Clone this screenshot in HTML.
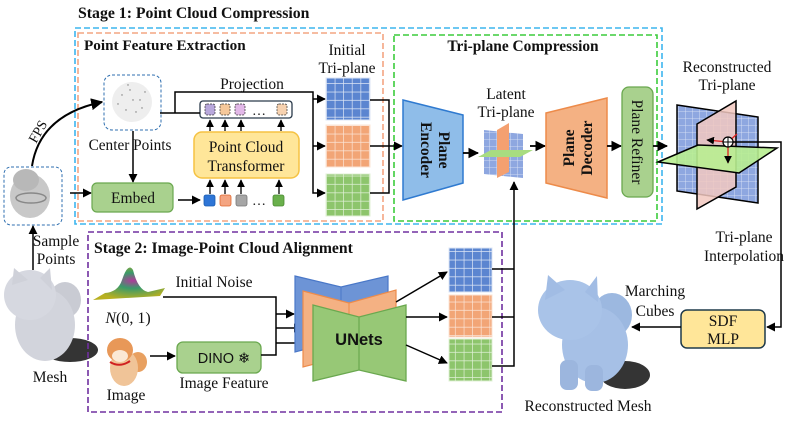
<!DOCTYPE html>
<html><head><meta charset="utf-8"><style>
html,body{margin:0;padding:0;background:#fff;}
svg{display:block;}
text{font-family:"Liberation Serif",serif;fill:#111;}
.b{font-weight:bold;}
.s{font-family:"Liberation Sans",sans-serif;}
</style></head><body>
<svg width="789" height="421" viewBox="0 0 789 421" xmlns="http://www.w3.org/2000/svg">
<defs>
<marker id="ah" viewBox="0 0 10 10" refX="9" refY="5" markerWidth="6" markerHeight="6" orient="auto-start-reverse"><path d="M0,0L10,5L0,10z" fill="#000"/></marker>
<pattern id="gb" width="8.6" height="8.4" patternUnits="userSpaceOnUse"><rect width="8.6" height="8.4" fill="#5b85d0"/><path d="M8.6,0V8.4M0,8.4H8.6" stroke="#dde6f5" stroke-width="1.4"/></pattern>
<pattern id="go" width="8.6" height="8.4" patternUnits="userSpaceOnUse"><rect width="8.6" height="8.4" fill="#f2a576"/><path d="M8.6,0V8.4M0,8.4H8.6" stroke="#fbe4d6" stroke-width="1.4"/></pattern>
<pattern id="gg" width="8.6" height="8.4" patternUnits="userSpaceOnUse"><rect width="8.6" height="8.4" fill="#8dc56c"/><path d="M8.6,0V8.4M0,8.4H8.6" stroke="#e0f0d6" stroke-width="1.4"/></pattern>
<pattern id="gl" width="7" height="7" patternUnits="userSpaceOnUse"><rect width="7" height="7" fill="#8ea7e0"/><path d="M7,0V7M0,7H7" stroke="#e3eaf8" stroke-width="0.8"/></pattern>
<radialGradient id="gauss" cx="0.55" cy="0.4" r="0.6"><stop offset="0" stop-color="#b03a9a"/><stop offset="0.4" stop-color="#3a9a6a"/><stop offset="1" stop-color="#b8b020"/></radialGradient>
</defs>

<!-- Stage 1 -->
<text x="78" y="18" class="b" font-size="15.8">Stage 1: Point Cloud Compression</text>
<rect x="75" y="28" width="587" height="196" fill="none" stroke="#3db6ee" stroke-width="1.6" stroke-dasharray="6,3"/>
<rect x="78" y="33" width="305" height="188" fill="none" stroke="#f4a582" stroke-width="1.6" stroke-dasharray="6,3"/>
<rect x="394" y="35" width="263" height="186" fill="none" stroke="#3ccc3c" stroke-width="1.6" stroke-dasharray="6,3"/>
<text x="84" y="50" class="b" font-size="15.2">Point Feature Extraction</text>
<text x="523" y="51" class="b" font-size="15.4" text-anchor="middle">Tri-plane Compression</text>

<!-- mesh point cloud box -->
<rect x="4" y="167" width="58" height="58" rx="7" fill="none" stroke="#2f6fb0" stroke-width="1" stroke-dasharray="3,2"/>
<ellipse cx="30" cy="196" rx="20" ry="22" fill="#c8c8c8"/>
<ellipse cx="26" cy="180" rx="13" ry="11" fill="#b8b8b8"/>
<ellipse cx="31" cy="198" rx="15" ry="5" fill="none" stroke="#888" stroke-width="1.5"/>
<!-- FPS -->
<path d="M32,166 Q40,115 102,102" fill="none" stroke="#000" stroke-width="2" marker-end="url(#ah)"/>
<text x="0" y="0" font-size="14" transform="translate(36,144) rotate(-60)">FPS</text>

<!-- center points -->
<rect x="104" y="75" width="57" height="55" rx="8" fill="none" stroke="#2f6fb0" stroke-width="1" stroke-dasharray="3,2"/>
<ellipse cx="132" cy="102" rx="20" ry="20" fill="#eee"/>
<g fill="#777"><circle cx="122" cy="95" r="0.7"/><circle cx="130" cy="90" r="0.7"/><circle cx="140" cy="100" r="0.7"/><circle cx="126" cy="110" r="0.7"/><circle cx="136" cy="112" r="0.7"/><circle cx="118" cy="104" r="0.7"/><circle cx="145" cy="92" r="0.7"/><circle cx="133" cy="100" r="0.7"/><circle cx="128" cy="85" r="0.7"/><circle cx="142" cy="108" r="0.7"/></g>
<text x="130" y="150" font-size="15.3" text-anchor="middle">Center Points</text>
<line x1="133" y1="131" x2="133" y2="182" stroke="#000" stroke-width="1.5" marker-end="url(#ah)"/>

<!-- Embed -->
<line x1="70" y1="193" x2="91" y2="193" stroke="#000" stroke-width="1.5" marker-end="url(#ah)"/>
<rect x="92" y="183" width="81" height="29" rx="5" fill="#a9d18e" stroke="#6aa84f" stroke-width="1.2"/>
<text x="133" y="203" font-size="15.5" text-anchor="middle">Embed</text>
<line x1="178" y1="200" x2="200" y2="200" stroke="#000" stroke-width="1.5" marker-end="url(#ah)"/>

<!-- tokens bottom -->
<rect x="204" y="195" width="11" height="11" rx="2" fill="#2e75d6" stroke="#1a5cb0" stroke-width="0.8"/>
<rect x="220" y="195" width="11" height="11" rx="2" fill="#f4a582" stroke="#e06a30" stroke-width="0.8"/>
<rect x="236" y="195" width="11" height="11" rx="2" fill="#a6a6a6" stroke="#777" stroke-width="0.8"/>
<text x="252" y="205" font-size="14">…</text>
<rect x="273" y="195" width="11" height="11" rx="2" fill="#6ab04c" stroke="#4a8a30" stroke-width="0.8"/>
<g stroke="#000" stroke-width="1.3"><line x1="210" y1="194" x2="210" y2="180" marker-end="url(#ah)"/><line x1="225" y1="194" x2="225" y2="180" marker-end="url(#ah)"/><line x1="241" y1="194" x2="241" y2="180" marker-end="url(#ah)"/><line x1="279" y1="194" x2="279" y2="180" marker-end="url(#ah)"/></g>

<!-- PCT -->
<rect x="194" y="132" width="105" height="46" rx="8" fill="#ffe699" stroke="#f5c242" stroke-width="1.5"/>
<text x="246" y="152" font-size="15.5" text-anchor="middle">Point Cloud</text>
<text x="246" y="171" font-size="15.5" text-anchor="middle">Transformer</text>
<g stroke="#000" stroke-width="1.3"><line x1="210" y1="131" x2="210" y2="120" marker-end="url(#ah)"/><line x1="225" y1="131" x2="225" y2="120" marker-end="url(#ah)"/><line x1="241" y1="131" x2="241" y2="120" marker-end="url(#ah)"/><line x1="281" y1="131" x2="281" y2="120" marker-end="url(#ah)"/></g>

<!-- token box top -->
<rect x="200" y="101" width="92" height="17" rx="3" fill="#fff" stroke="#2a3a4a" stroke-width="1.3"/>
<rect x="205" y="104" width="10" height="11" rx="2" fill="#b8a8dc" stroke="#333" stroke-width="0.7" stroke-dasharray="2,1"/>
<rect x="220" y="104" width="10" height="11" rx="2" fill="#f6c89a" stroke="#333" stroke-width="0.7" stroke-dasharray="2,1"/>
<rect x="235" y="104" width="10" height="11" rx="2" fill="#e2b8e8" stroke="#333" stroke-width="0.7" stroke-dasharray="2,1"/>
<text x="252" y="115" font-size="14">…</text>
<rect x="277" y="104" width="10" height="11" rx="2" fill="#f7d2b0" stroke="#333" stroke-width="0.7" stroke-dasharray="2,1"/>

<!-- projection -->
<text x="252" y="89" font-size="15.5" text-anchor="middle">Projection</text>
<polyline points="160,113 200,113" fill="none" stroke="#000" stroke-width="1.5"/>
<polyline points="175,113 175,92 313,92 313,193 325,193" fill="none" stroke="#000" stroke-width="1.5" marker-end="url(#ah)"/>
<line x1="313" y1="99" x2="325" y2="99" stroke="#000" stroke-width="1.5" marker-end="url(#ah)"/>
<line x1="313" y1="146" x2="325" y2="146" stroke="#000" stroke-width="1.5" marker-end="url(#ah)"/>

<!-- initial triplane -->
<text x="347" y="55" font-size="15.5" text-anchor="middle">Initial</text>
<text x="347" y="73" font-size="15.5" text-anchor="middle">Tri-plane</text>
<rect x="326" y="78" width="44" height="42" fill="url(#gb)" stroke="#dde6f5"/>
<rect x="326" y="125" width="44" height="42" fill="url(#go)" stroke="#fbe4d6"/>
<rect x="326" y="174" width="44" height="42" fill="url(#gg)" stroke="#e0f0d6"/>
<polyline points="370,100 389,100 389,193 370,193" fill="none" stroke="#000" stroke-width="1.5"/>
<line x1="370" y1="146" x2="402" y2="146" stroke="#000" stroke-width="1.5" marker-end="url(#ah)"/>

<!-- encoder -->
<polygon points="403,100 463,115 463,183 403,200" fill="#8fbde9" stroke="#2f7ad0" stroke-width="1.5"/>
<g transform="translate(433,150) rotate(90)"><text x="0" y="-6" class="b" font-size="15.5" text-anchor="middle">Plane</text><text x="0" y="12" class="b" font-size="15.5" text-anchor="middle">Encoder</text></g>
<line x1="463" y1="153" x2="478" y2="153" stroke="#000" stroke-width="1.8" marker-end="url(#ah)"/>

<!-- latent -->
<text x="506" y="99" font-size="15.5" text-anchor="middle">Latent</text>
<text x="506" y="117" font-size="15.5" text-anchor="middle">Tri-plane</text>
<polygon points="484,130 523,134 523,178 484,174" fill="url(#gl)"/>
<polygon points="497,130 509,123 509,172 497,178" fill="#f4a070"/>
<polygon points="478,157 491,150 533,150 520,157" fill="#a8dc80"/>
<line x1="530" y1="146" x2="545" y2="146" stroke="#000" stroke-width="1.8" marker-end="url(#ah)"/>

<!-- decoder -->
<polygon points="546,113 607,98 607,198 546,183" fill="#f4b183" stroke="#ed8b4a" stroke-width="1.5"/>
<g transform="translate(578,148) rotate(-90)"><text x="0" y="-4" class="b" font-size="15.5" text-anchor="middle">Plane</text><text x="0" y="14" class="b" font-size="15.5" text-anchor="middle">Decoder</text></g>
<line x1="607" y1="146" x2="621" y2="146" stroke="#000" stroke-width="1.8" marker-end="url(#ah)"/>

<!-- refiner -->
<rect x="622" y="87" width="31" height="110" rx="7" fill="#a9d18e" stroke="#6aa84f" stroke-width="1.3"/>
<text x="0" y="0" font-size="15.5" text-anchor="middle" transform="translate(632,142) rotate(90)">Plane Refiner</text>
<line x1="653" y1="146" x2="667" y2="146" stroke="#000" stroke-width="1.8" marker-end="url(#ah)"/>

<!-- reconstructed triplane -->
<text x="727" y="72" font-size="15.5" text-anchor="middle">Reconstructed</text>
<text x="727" y="90" font-size="15.5" text-anchor="middle">Tri-plane</text>
<polygon points="677,105 758,117 758,203 677,191" fill="url(#gl)" stroke="#000" stroke-width="1.5"/>
<polygon points="697,124 736,101 736,187 697,209" fill="#f2c8c0" fill-opacity="0.85" stroke="#000" stroke-width="1.5"/>
<polygon points="658,162 698,145 777,148 739,173" fill="#b8ee90" fill-opacity="0.9" stroke="#000" stroke-width="1.5"/>
<g stroke="#e02020" stroke-width="1.3"><line x1="728" y1="142" x2="707" y2="140" marker-end="url(#ah)"/><line x1="728" y1="142" x2="728" y2="163" marker-end="url(#ah)"/><line x1="728" y1="142" x2="737" y2="134"/></g>
<circle cx="728" cy="142" r="5" fill="#fff" stroke="#000" stroke-width="1.2"/>
<path d="M723,142H733M728,137V147" stroke="#000" stroke-width="1"/>
<polyline points="733,142 781,142 781,327 767,327" fill="none" stroke="#000" stroke-width="1.5" marker-end="url(#ah)"/>
<text x="744" y="242" font-size="15.5" text-anchor="middle">Tri-plane</text>
<text x="744" y="261" font-size="15.5" text-anchor="middle">Interpolation</text>

<!-- SDF MLP -->
<rect x="681" y="310" width="84" height="38" rx="6" fill="#ffe699" stroke="#1f3a4a" stroke-width="1.5"/>
<text x="723" y="326" font-size="15.5" text-anchor="middle">SDF</text>
<text x="723" y="344" font-size="15.5" text-anchor="middle">MLP</text>
<line x1="681" y1="327" x2="632" y2="327" stroke="#000" stroke-width="1.5" marker-end="url(#ah)"/>
<text x="655" y="296" font-size="15.5" text-anchor="middle">Marching</text>
<text x="655" y="316" font-size="15.5" text-anchor="middle">Cubes</text>

<!-- reconstructed mesh -->
<ellipse cx="625" cy="375" rx="25" ry="14" fill="#111" opacity="0.85"/>
<ellipse cx="612" cy="315" rx="20" ry="22" fill="#9cb8e0"/>
<ellipse cx="595" cy="345" rx="33" ry="38" fill="#a6c0e6"/>
<ellipse cx="570" cy="310" rx="32" ry="30" fill="#a9c3e8"/>
<polygon points="545,300 548,275 565,290" fill="#a1bce4"/>
<polygon points="585,292 597,276 598,302" fill="#a1bce4"/>
<rect x="560" y="360" width="18" height="30" rx="7" fill="#9cb6de"/>
<rect x="585" y="365" width="18" height="26" rx="7" fill="#9cb6de"/>
<text x="588" y="411" font-size="15.5" text-anchor="middle">Reconstructed Mesh</text>

<!-- left mesh -->
<line x1="33" y1="270" x2="33" y2="226" stroke="#000" stroke-width="1.5" marker-end="url(#ah)"/>
<text x="56" y="246" font-size="15.5" text-anchor="middle">Sample</text>
<text x="56" y="264" font-size="15.5" text-anchor="middle">Points</text>
<ellipse cx="70" cy="350" rx="28" ry="12" fill="#111" opacity="0.85"/>
<ellipse cx="65" cy="300" rx="16" ry="18" fill="#c9cbd3"/>
<ellipse cx="45" cy="325" rx="30" ry="36" fill="#d2d4dc"/>
<ellipse cx="30" cy="295" rx="26" ry="25" fill="#d6d8e0"/>
<polygon points="12,285 14,268 28,280" fill="#cfd1d9"/>
<polygon points="40,278 50,268 52,290" fill="#cfd1d9"/>
<text x="50" y="382" font-size="15.5" text-anchor="middle">Mesh</text>

<!-- Stage 2 -->
<rect x="88" y="232" width="414" height="180" fill="none" stroke="#7030a0" stroke-width="1.6" stroke-dasharray="6,3"/>
<text x="94" y="253" class="b" font-size="15.7">Stage 2: Image-Point Cloud Alignment</text>
<path d="M93,300 L160,296 L165,288 L148,292 Q138,290 133,270 Q128,262 122,280 Q118,292 105,293 Z" fill="url(#gauss)"/>
<text x="128" y="323" font-size="16" text-anchor="middle"><tspan font-style="italic">N</tspan>(0, 1)</text>
<!-- dog -->
<ellipse cx="138" cy="362" rx="9" ry="10" fill="#e8a060"/>
<ellipse cx="124" cy="368" rx="14" ry="18" fill="#f0c498"/>
<ellipse cx="120" cy="350" rx="13" ry="12" fill="#e89858"/>
<ellipse cx="120" cy="356" rx="8" ry="6" fill="#fbe8d4"/>
<path d="M110,362 Q120,368 130,361" stroke="#d02020" stroke-width="2" fill="none"/>
<text x="126" y="400" font-size="15.5" text-anchor="middle">Image</text>
<line x1="150" y1="356" x2="175" y2="356" stroke="#000" stroke-width="1.5" marker-end="url(#ah)"/>
<rect x="177" y="342" width="84" height="31" rx="6" fill="#a9d18e" stroke="#6aa84f" stroke-width="1.3"/>
<text x="224" y="363" class="s" font-size="14.5" text-anchor="middle">DINO ❄</text>
<text x="224" y="388" font-size="15.5" text-anchor="middle">Image Feature</text>
<text x="214" y="287" font-size="15.5" text-anchor="middle">Initial Noise</text>
<polyline points="163,297 276,297 276,355 261,355" fill="none" stroke="#000" stroke-width="1.5"/>
<line x1="276" y1="314" x2="294" y2="314" stroke="#000" stroke-width="1.5" marker-end="url(#ah)"/>
<line x1="276" y1="328" x2="302" y2="328" stroke="#000" stroke-width="1.5" marker-end="url(#ah)"/>
<line x1="276" y1="343" x2="312" y2="343" stroke="#000" stroke-width="1.5" marker-end="url(#ah)"/>

<!-- UNets -->
<polygon points="295,276 341,287 388,276 388,345 341,340 295,352" fill="#6d94d6" stroke="#4a78c8" stroke-width="1.2"/>
<line x1="341" y1="287" x2="341" y2="340" stroke="#4a78c8"/>
<polygon points="303,291 349,303 396,290 396,360 349,355 303,367" fill="#f4b183" stroke="#ed8b4a" stroke-width="1.2"/>
<line x1="349" y1="303" x2="349" y2="355" stroke="#ed8b4a"/>
<polygon points="313,305 359,317 406,305 406,381 359,370 313,381" fill="#97c876" stroke="#6aa84f" stroke-width="1.3"/>
<line x1="359" y1="317" x2="359" y2="370" stroke="#6aa84f" stroke-width="1.2"/>
<text x="359" y="345" class="s b" font-size="16.5" text-anchor="middle">UNets</text>
<line x1="396" y1="302" x2="447" y2="272" stroke="#000" stroke-width="1.5" marker-end="url(#ah)"/>
<line x1="406" y1="317" x2="447" y2="317" stroke="#000" stroke-width="1.5" marker-end="url(#ah)"/>
<line x1="406" y1="345" x2="447" y2="363" stroke="#000" stroke-width="1.5" marker-end="url(#ah)"/>
<rect x="449" y="248" width="43" height="44" fill="url(#gb)" stroke="#dde6f5"/>
<rect x="449" y="295" width="43" height="42" fill="url(#go)" stroke="#fbe4d6"/>
<rect x="449" y="339" width="43" height="42" fill="url(#gg)" stroke="#e0f0d6"/>
<polyline points="492,269 514,269" fill="none" stroke="#000" stroke-width="1.5"/>
<polyline points="492,317 514,317" fill="none" stroke="#000" stroke-width="1.5"/>
<polyline points="492,366 514,366 514,182" fill="none" stroke="#000" stroke-width="1.5" marker-end="url(#ah)"/>
</svg>
</body></html>
